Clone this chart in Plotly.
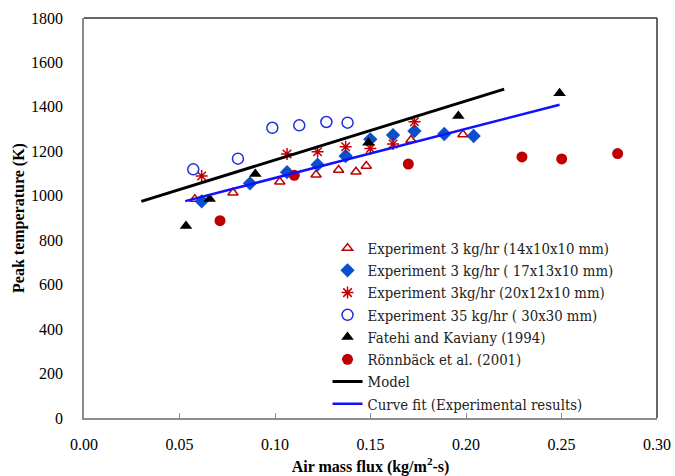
import plotly.graph_objects as go

# Experiment 3 kg/hr (14x10x10 mm)
exp1_x = [0.058, 0.078, 0.1025, 0.1215, 0.1333, 0.1424, 0.1478, 0.1712, 0.1984]
exp1_y = [985, 1014, 1063, 1095, 1116, 1108, 1134, 1251, 1276]

# Experiment 3 kg/hr (17x13x10 mm)
exp2_x = [0.0616, 0.0869, 0.1063, 0.1223, 0.137, 0.1499, 0.1618, 0.173, 0.1886, 0.204]
exp2_y = [975, 1056, 1106, 1140, 1179, 1254, 1273, 1291, 1278, 1269]

# Experiment 3 kg/hr (20x12x10 mm)
exp3_x = [0.0616, 0.1063, 0.1223, 0.137, 0.1499, 0.1618, 0.173]
exp3_y = [1089, 1188, 1198, 1221, 1213, 1233, 1333]

# Experiment 35 kg/hr (30x30 mm)
exp4_x = [0.0572, 0.0806, 0.0986, 0.1127, 0.1269, 0.138]
exp4_y = [1119, 1167, 1306, 1317, 1332, 1329]

# Fatehi and Kaviany (1994)
fk_x = [0.0534, 0.0658, 0.0897, 0.1489, 0.196, 0.249]
fk_y = [864, 985, 1098, 1239, 1359, 1461]

# Rönnbäck et al. (2001)
ro_x = [0.0712, 0.1101, 0.1698, 0.2293, 0.2501, 0.2794]
ro_y = [888, 1092, 1143, 1175, 1166, 1190]

# Model prediction and linear fit of the experiments
model_x = [0.030, 0.220]
model_y = [975, 1480]
fit_x = [0.053, 0.249]
fit_y = [976, 1410]

FONT = "Liberation Serif"
LEGEND_FONT = "DejaVu Serif Condensed, DejaVu Serif"

fig = go.Figure()

fig.add_trace(go.Scatter(x=exp1_x, y=exp1_y, mode="markers",
                         name="Experiment 3 kg/hr (14x10x10 mm)",
                         marker=dict(symbol="triangle-up-open", size=9, color="#c00000",
                                     line=dict(width=1.5, color="#c00000"))))
fig.add_trace(go.Scatter(x=exp2_x, y=exp2_y, mode="markers",
                         name="Experiment 3 kg/hr ( 17x13x10 mm)",
                         marker=dict(symbol="diamond", size=11, color="#0b4fcf")))
fig.add_trace(go.Scatter(x=exp3_x, y=exp3_y, mode="markers",
                         name="Experiment 3kg/hr (20x12x10 mm)",
                         marker=dict(symbol="asterisk-open", size=10, color="#c00000",
                                     line=dict(width=1.5, color="#c00000"))))
fig.add_trace(go.Scatter(x=exp4_x, y=exp4_y, mode="markers",
                         name="Experiment 35 kg/hr ( 30x30 mm)",
                         marker=dict(symbol="circle-open", size=11, color="#1f2fe0",
                                     line=dict(width=1.5, color="#1f2fe0"))))
fig.add_trace(go.Scatter(x=fk_x, y=fk_y, mode="markers",
                         name="Fatehi and Kaviany (1994)",
                         marker=dict(symbol="triangle-up", size=11, color="black")))
fig.add_trace(go.Scatter(x=ro_x, y=ro_y, mode="markers",
                         name="Rönnbäck et al. (2001)",
                         marker=dict(symbol="circle", size=11, color="#c00000")))
fig.add_trace(go.Scatter(x=model_x, y=model_y, mode="lines", name="Model",
                         line=dict(color="black", width=3)))
fig.add_trace(go.Scatter(x=fit_x, y=fit_y, mode="lines",
                         name="Curve fit (Experimental results)",
                         line=dict(color="#1010ff", width=2.5)))

axis_font = dict(family=FONT, size=16, color="black")

fig.update_layout(
    width=675, height=476,
    margin=dict(l=84, r=18, t=18, b=58),
    paper_bgcolor="white", plot_bgcolor="white",
    font=dict(family=FONT, size=16, color="black"),
    showlegend=True,
    legend=dict(x=0.425, y=0.465, xanchor="left", yanchor="top",
                bgcolor="rgba(0,0,0,0)",
                font=dict(family=LEGEND_FONT, size=14.8, color="#222222"),
                tracegroupgap=0, itemwidth=30),
    xaxis=dict(range=[0, 0.30], dtick=0.05, tickformat=".2f",
               showgrid=False, zeroline=False, automargin=False,
               showline=True, linecolor="#8c8c8c", linewidth=1.5,
               ticks="inside", ticklen=5, tickcolor="#8c8c8c",
               ticklabelstandoff=11,
               tickfont=axis_font,
               title=dict(text="<b>Air mass flux (kg/m<sup>2</sup>-s)</b>",
                          font=dict(family=FONT, size=16), standoff=12)),
    yaxis=dict(range=[0, 1800], dtick=200,
               showgrid=False, zeroline=False, automargin=False,
               showline=True, linecolor="#8c8c8c", linewidth=1.5,
               ticks="", ticklabelstandoff=16, tickfont=axis_font,
               title=dict(text="<b>Peak temperature (K)</b>",
                          font=dict(family=FONT, size=16), standoff=2)),
)

# Dark frame along the top and right of the plotting area
fig.add_shape(type="line", xref="paper", yref="paper", x0=0, x1=1, y0=1, y1=1,
              line=dict(color="#333333", width=1.5))
fig.add_shape(type="line", xref="paper", yref="paper", x0=1, x1=1, y0=0, y1=1,
              line=dict(color="#333333", width=1.5))

fig.write_html("out.html")
